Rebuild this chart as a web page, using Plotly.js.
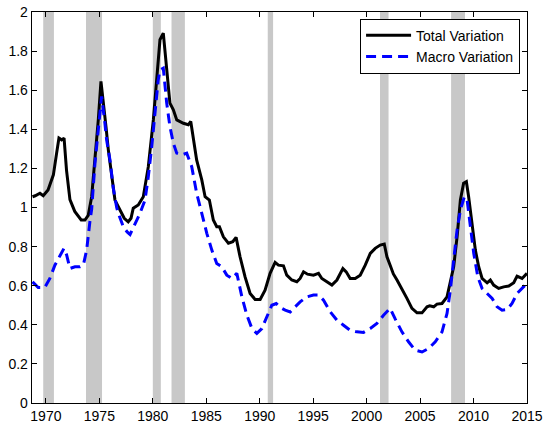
<!DOCTYPE html>
<html>
<head>
<meta charset="utf-8">
<script src="https://cdn.plot.ly/plotly-3.0.1.min.js"></script>
<style>html,body{margin:0;padding:0;background:#fff;}#chart{width:556px;height:428px;}</style>
</head>
<body>
<div id="chart"></div>
<script>
const totalYears = [1968.75,1969.0,1969.44,1969.75,1970.2,1970.7,1971.0,1971.22,1971.47,1971.7,1971.93,1972.25,1972.7,1973.0,1973.3,1973.65,1973.96,1974.28,1974.59,1974.9,1975.15,1975.37,1975.62,1975.84,1976.15,1976.46,1976.93,1977.33,1977.7,1977.96,1978.17,1978.64,1979.11,1979.58,1980.05,1980.5,1980.67,1980.98,1981.3,1981.6,1981.92,1982.24,1982.86,1983.32,1983.55,1983.8,1984.1,1984.58,1984.89,1985.29,1985.66,1985.98,1986.23,1986.6,1987.07,1987.48,1987.79,1988.16,1988.63,1989.1,1989.57,1990.04,1990.5,1990.97,1991.44,1991.75,1992.22,1992.53,1993.0,1993.47,1993.78,1994.1,1994.47,1995.03,1995.5,1995.81,1996.28,1996.75,1997.22,1997.53,1997.78,1998.09,1998.46,1998.93,1999.4,1999.87,2000.34,2000.8,2001.27,2001.65,2001.9,2002.2,2002.5,2002.84,2003.3,2003.77,2004.24,2004.71,2005.18,2005.65,2005.9,2006.27,2006.58,2007.05,2007.52,2007.83,2008.14,2008.46,2008.77,2009.07,2009.33,2009.54,2009.86,2010.17,2010.48,2010.8,2011.27,2011.57,2011.88,2012.35,2012.82,2013.29,2013.76,2014.07,2014.54,2015.0];
const totalValues = [1.055,1.06,1.073,1.06,1.09,1.167,1.277,1.355,1.346,1.355,1.19,1.04,0.98,0.96,0.936,0.936,0.96,1.055,1.243,1.448,1.645,1.55,1.414,1.295,1.158,1.038,0.987,0.945,0.927,0.945,0.996,1.013,1.055,1.209,1.448,1.773,1.858,1.892,1.721,1.534,1.5,1.448,1.431,1.423,1.44,1.346,1.243,1.141,1.055,1.038,0.936,0.902,0.902,0.85,0.817,0.825,0.847,0.748,0.645,0.56,0.53,0.53,0.577,0.663,0.719,0.705,0.702,0.654,0.629,0.62,0.637,0.671,0.659,0.654,0.663,0.637,0.62,0.603,0.629,0.663,0.688,0.671,0.637,0.637,0.654,0.705,0.765,0.791,0.808,0.813,0.748,0.705,0.66,0.629,0.586,0.535,0.484,0.461,0.461,0.492,0.497,0.492,0.506,0.509,0.543,0.612,0.697,0.85,1.038,1.124,1.132,1.055,0.902,0.782,0.697,0.637,0.615,0.629,0.603,0.586,0.594,0.598,0.615,0.649,0.637,0.663];
const macroYears = [1968.75,1969.28,1969.9,1970.37,1970.84,1971.31,1971.69,1971.94,1972.25,1972.72,1973.18,1973.5,1973.81,1974.12,1974.28,1974.59,1974.9,1975.21,1975.52,1975.68,1976.0,1976.3,1976.62,1976.77,1977.24,1977.6,1977.87,1978.1,1978.33,1978.8,1979.27,1979.58,1979.9,1980.2,1980.5,1980.67,1980.98,1981.3,1981.6,1981.92,1982.24,1982.7,1983.17,1983.64,1984.1,1984.58,1985.05,1985.52,1985.98,1986.45,1986.92,1987.39,1987.86,1988.33,1988.8,1989.27,1989.73,1990.2,1990.67,1991.13,1991.54,1991.91,1992.38,1992.85,1993.31,1993.78,1994.4,1995.03,1995.5,1995.97,1996.6,1997.22,1997.84,1998.46,1999.09,1999.71,2000.34,2000.96,2001.58,2002.2,2002.67,2003.3,2003.92,2004.55,2005.18,2005.8,2006.42,2007.05,2007.52,2007.83,2008.14,2008.46,2008.77,2009.14,2009.4,2009.7,2010.02,2010.4,2010.8,2011.27,2011.74,2012.2,2012.67,2013.15,2013.6,2014.07,2014.54,2015.0];
const macroValues = [0.62,0.591,0.591,0.637,0.705,0.757,0.791,0.757,0.688,0.697,0.697,0.705,0.782,0.93,0.99,1.226,1.397,1.568,1.43,1.346,1.24,1.1,1.0,0.97,0.902,0.875,0.862,0.89,0.919,0.97,1.038,1.158,1.311,1.483,1.65,1.704,1.713,1.534,1.414,1.329,1.278,1.269,1.278,1.209,1.073,0.97,0.868,0.782,0.714,0.697,0.654,0.637,0.663,0.543,0.449,0.381,0.356,0.381,0.441,0.5,0.509,0.489,0.475,0.466,0.492,0.517,0.543,0.552,0.552,0.526,0.466,0.424,0.398,0.372,0.364,0.361,0.381,0.407,0.449,0.484,0.43,0.364,0.313,0.27,0.261,0.279,0.313,0.364,0.458,0.577,0.731,0.885,0.987,1.055,1.038,0.902,0.765,0.645,0.586,0.56,0.535,0.492,0.475,0.478,0.509,0.56,0.586,0.612];
const recessionStarts = [1969.75,1973.75,1980.0,1981.75,1990.75,2001.25,2007.9];
const recessionEnds = [1970.75,1975.25,1980.75,1983.0,1991.25,2002.05,2009.2];
const xTickVals = [1970,1975,1980,1985,1990,1995,2000,2005,2010,2015];
const yTickVals = [0,0.2,0.4,0.6,0.8,1,1.2,1.4,1.6,1.8,2];
const seriesNames = ["Total Variation","Macro Variation"];

const shapes = recessionStarts.map((s, i) => ({
  type: "rect", xref: "x", yref: "paper", x0: s, x1: recessionEnds[i], y0: 0, y1: 1,
  fillcolor: "#c8c8c8", line: {width: 0}, layer: "below"
}));

const traces = [
  {x: totalYears, y: totalValues, type: "scatter", mode: "lines", name: seriesNames[0],
   line: {color: "#000000", width: 3}},
  {x: macroYears, y: macroValues, type: "scatter", mode: "lines", name: seriesNames[1],
   line: {color: "#0000ff", width: 3, dash: "10px,6px"}}
];

const font = {family: "Liberation Sans, Arial, sans-serif", size: 14, color: "#000"};
const layout = {
  width: 556, height: 428,
  margin: {l: 32, r: 29, t: 12, b: 25, pad: 0},
  paper_bgcolor: "#fff", plot_bgcolor: "#fff",
  font: font,
  showlegend: true,
  legend: {x: 0.986, y: 0.983, xanchor: "right", yanchor: "top",
    bgcolor: "#fff", bordercolor: "#000", borderwidth: 1, itemwidth: 45,
    font: {family: font.family, size: 14, color: "#000"}, tracegroupgap: 0},
  xaxis: {range: [1968.7, 2015], tickvals: xTickVals, ticks: "inside", ticklen: 5,
    tickcolor: "#000", showline: true, linecolor: "#000", linewidth: 1.3, mirror: "ticks",
    showgrid: false, zeroline: false, tickfont: font},
  yaxis: {range: [0, 2], tickvals: yTickVals, ticktext: yTickVals.map(v => String(v)),
    ticks: "inside", ticklen: 5, tickcolor: "#000", showline: true, linecolor: "#000",
    linewidth: 1.3, mirror: "ticks", showgrid: false, zeroline: false, tickfont: font},
  shapes: shapes
};
Plotly.newPlot("chart", traces, layout, {displayModeBar: false, staticPlot: true});
</script>
</body>
</html>
